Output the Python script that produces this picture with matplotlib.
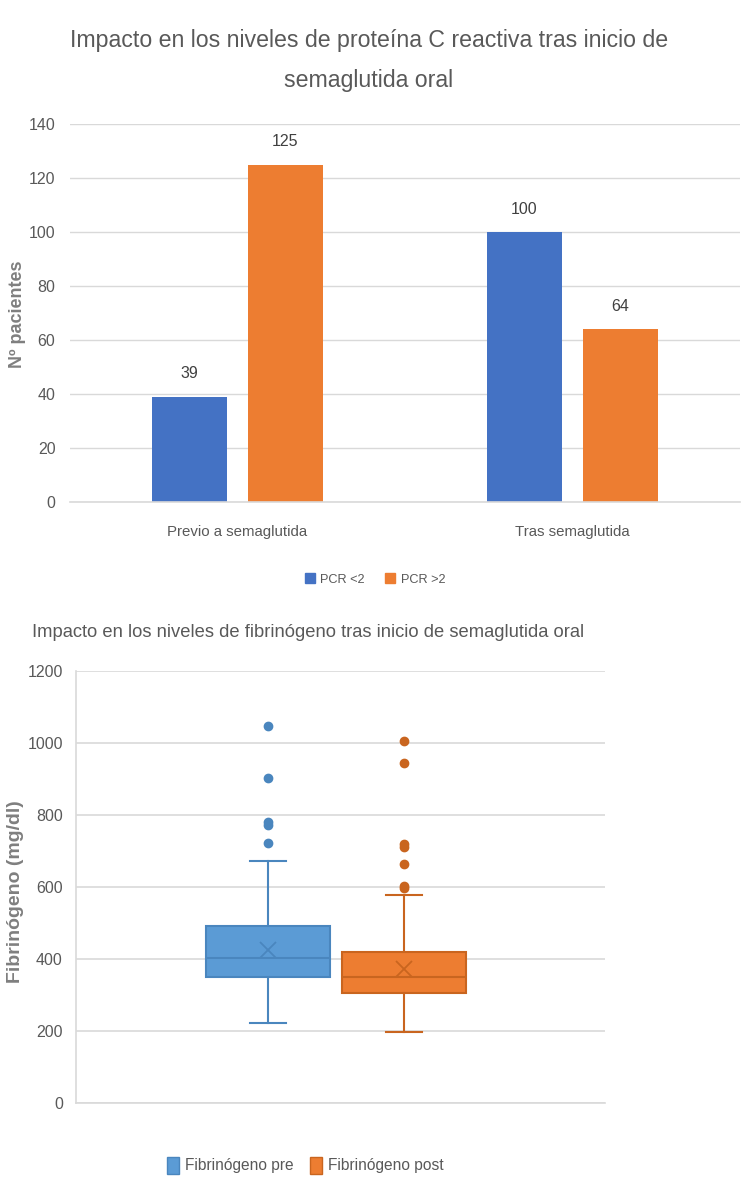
import matplotlib
matplotlib.use('Agg')
import matplotlib.pyplot as plt
from matplotlib.patches import Patch

plt.rcParams['font.family'] = ['Liberation Sans', 'DejaVu Sans']

# --- data: PCR bar chart
groups = ['Previo a semaglutida', 'Tras semaglutida']
pcr_lt2 = [39, 100]
pcr_gt2 = [125, 64]
series_names = ['PCR <2', 'PCR >2']

# --- data: fibrinogen box plot
box_names = ['Fibrinógeno pre', 'Fibrinógeno post']
whis_low = [221, 196]
q1 = [348, 305]
medians = [402, 348]
q3 = [492, 418]
whis_high = [673, 578]
means = [423, 371]
outliers_pre = [721, 772, 780, 902, 1047]
outliers_post = [596, 603, 663, 710, 718, 945, 1004]

txt = '#595959'
grid = '#d9d9d9'
blue, orange = '#4472C4', '#ED7D31'
bblue, borange = '#5B9BD5', '#ED7D31'
eblue, eorange = '#4A86BE', '#C9651F'

fig = plt.figure(figsize=(7.5, 12), dpi=100)

# ---------------- top chart
ax = fig.add_axes([0.0933, 0.582, 0.8933, 0.3144])
x = range(len(groups))
w = 0.224
off = 0.143
b1 = ax.bar([i - off for i in x], pcr_lt2, w, color=blue, label=series_names[0])
b2 = ax.bar([i + off for i in x], pcr_gt2, w, color=orange, label=series_names[1])
for bars in (b1, b2):
    ax.bar_label(bars, padding=11, fontsize=11.5, color='#404040')
ax.set_xlim(-0.5, 1.5)
ax.set_ylim(0, 140)
ax.set_yticks(range(0, 141, 20))
ax.set_xticks(list(x))
ax.set_xticklabels(groups, fontsize=10.8, color=txt)
ax.tick_params(axis='y', labelsize=11.5, labelcolor=txt, length=0, pad=10.5)
ax.tick_params(axis='x', length=0, pad=17)
ax.grid(axis='y', color=grid, lw=1)
ax.axhline(0, color=grid, lw=1.2, clip_on=False)
ax.set_axisbelow(True)
for s in ax.spines.values():
    s.set_visible(False)
ax.set_ylabel('Nº pacientes', fontweight='bold', fontsize=13, color='#7f7f7f')
ax.yaxis.set_label_coords(-0.066, 0.497)
fig.text(0.492, 0.976, 'Impacto en los niveles de proteína C reactiva tras inicio de\nsemaglutida oral',
         ha='center', va='top', fontsize=16.7, color=txt, linespacing=1.95)
fig.legend(handles=[Patch(color=blue), Patch(color=orange)], labels=series_names,
           loc='center', bbox_to_anchor=(0.5, 0.517), ncol=2, frameon=False,
           fontsize=9.2, handlelength=0.8, handleheight=0.8, handletextpad=0.4,
           columnspacing=1.6, labelcolor=txt)

# ---------------- bottom chart
ax2 = fig.add_axes([0.1013, 0.0811, 0.7053, 0.3598])
fliers = [outliers_pre, outliers_post]
stats = []
for i in range(2):
    stats.append(dict(label=box_names[i], whislo=whis_low[i], q1=q1[i], med=medians[i],
                      q3=q3[i], whishi=whis_high[i], mean=means[i], fliers=fliers[i]))
pos = [0.363, 0.620]
fills = [bblue, borange]
edges = [eblue, eorange]
for i in range(2):
    ax2.bxp([stats[i]], positions=[pos[i]], widths=0.233, capwidths=0.068,
            patch_artist=True, showmeans=True, manage_ticks=False,
            boxprops=dict(facecolor=fills[i], edgecolor=edges[i], lw=1.5),
            medianprops=dict(color=edges[i], lw=1.5),
            whiskerprops=dict(color=edges[i], lw=1.5),
            capprops=dict(color=edges[i], lw=1.5),
            meanprops=dict(marker='x', markeredgecolor=edges[i], markersize=12, markeredgewidth=1.3),
            flierprops=dict(marker='o', markerfacecolor=edges[i], markeredgecolor=edges[i], markersize=6))
ax2.set_xlim(0, 1)
ax2.set_ylim(0, 1200)
ax2.set_yticks(range(0, 1201, 200))
ax2.set_xticks([])
ax2.tick_params(axis='y', labelsize=11.5, labelcolor=txt, length=0, pad=9.5)
ax2.grid(axis='y', color=grid, lw=1.2)
ax2.set_axisbelow(True)
for k in ('top', 'right'):
    ax2.spines[k].set_visible(False)
for k in ('left', 'bottom'):
    ax2.spines[k].set_color(grid)
    ax2.spines[k].set_linewidth(1.2)
ax2.set_ylabel('Fibrinógeno (mg/dl)', fontweight='bold', fontsize=14, color='#7f7f7f')
ax2.yaxis.set_label_coords(-0.098, 0.488)
fig.text(0.042, 0.473, 'Impacto en los niveles de fibrinógeno tras inicio de semaglutida oral',
         ha='left', va='center', fontsize=13.2, color=txt)
fig.legend(handles=[Patch(facecolor=bblue, edgecolor=eblue), Patch(facecolor=borange, edgecolor=eorange)],
           labels=box_names, loc='center', bbox_to_anchor=(0.407, 0.029), ncol=2, frameon=False,
           fontsize=11.2, handlelength=0.8, handleheight=1.3, handletextpad=0.4,
           columnspacing=1.0, labelcolor=txt)

fig.savefig('out.png', dpi=100)
